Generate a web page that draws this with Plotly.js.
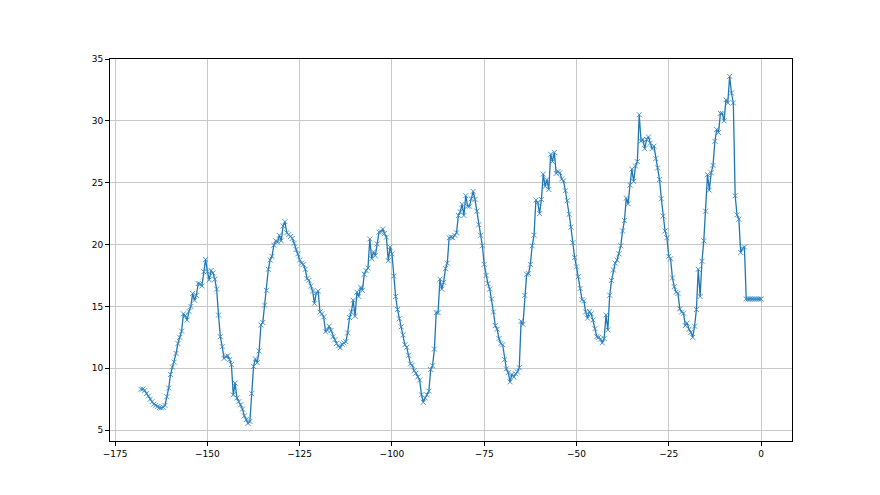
<!DOCTYPE html>
<html>
<head>
<meta charset="utf-8">
<script src="https://cdn.plot.ly/plotly-3.0.1.min.js"></script>
<style>html,body{margin:0;padding:0;background:#fff;}#chart{width:880px;height:495px;}</style>
</head>
<body>
<div id="chart"></div>
<script>
// Half-hourly readings, hours relative to now (-168 .. 0)
var startHour = -168;
var stepHour = 0.5;

// -168 .. -142.5
var day1 = [8.3, 8.32, 8.2, 7.95, 7.75, 7.5, 7.3, 7.1, 7.0, 6.9,
  6.82, 6.8, 6.85, 7.0, 7.7, 8.4, 9.5, 10.1, 10.5, 11.2,
  12.0, 12.5, 13.0, 14.4, 14.25, 13.9, 14.6, 15.0, 16.05, 15.5,
  15.9, 16.85, 16.8, 16.65, 17.8, 18.8, 17.8, 17.15, 17.9, 17.7,
  17.2, 16.4, 14.3, 12.55, 11.75, 10.8, 10.95, 11.0, 10.7, 10.3,
  7.85, 8.8];
// -142 .. -115.5
var day2 = [7.6, 7.3, 7.05, 6.7, 6.15, 5.85, 5.55, 5.7, 7.95, 10.15,
  10.75, 10.45, 11.4, 13.5, 13.7, 15.1, 16.3, 18.0, 18.75, 19.05,
  19.95, 20.3, 20.2, 20.75, 20.3, 21.5, 21.85, 20.95, 20.8, 20.65,
  20.5, 20.1, 19.6, 19.25, 18.75, 18.5, 18.4, 18.0, 17.25, 17.1,
  16.65, 16.25, 15.25, 16.1, 16.25, 14.55, 14.4, 14.15, 12.95, 13.1,
  13.4, 13.05, 12.55, 12.3];
// -115 .. -90
var day3 = [12.0, 11.8, 11.65, 11.95, 12.05, 12.15, 12.85, 14.1, 14.55, 15.5,
  14.2, 16.15, 15.8, 16.55, 16.3, 17.6, 17.9, 18.1, 20.45, 18.85,
  19.4, 19.1, 20.05, 21.0, 21.05, 21.25, 20.9, 20.6, 18.7, 19.8,
  19.25, 17.45, 15.8, 14.75, 14.0, 13.35, 12.7, 11.9, 11.7, 11.05,
  10.35, 10.25, 9.8, 9.6, 9.3, 9.05, 7.85, 7.25, 7.6, 7.85,
  8.15];
// -89.5 .. -60
var day4 = [9.9, 10.2, 11.55, 14.5, 14.5, 17.2, 16.4, 16.95, 18.05, 18.5,
  20.55, 20.6, 20.55, 20.75, 20.95, 22.35, 22.65, 23.25, 22.35, 23.95,
  23.1, 23.1, 23.7, 24.3, 23.65, 22.7, 21.6, 20.75, 19.9, 18.4,
  17.5, 16.85, 16.4, 15.6, 14.55, 13.45, 13.15, 12.4, 12.0, 11.9,
  10.7, 9.95, 9.65, 8.9, 9.5, 9.3, 9.55, 9.7, 10.05, 13.8,
  13.55, 15.9, 17.6, 17.65, 18.4, 19.9, 20.75, 23.6, 23.4, 22.5];
// -59.5 .. -33.5
var day5 = [23.65, 25.7, 24.7, 25.25, 24.45, 27.3, 26.7, 27.45, 25.75, 25.9,
  25.8, 25.3, 25.15, 24.35, 23.55, 22.45, 21.4, 20.15, 18.95, 18.2,
  17.4, 16.45, 15.55, 15.45, 14.55, 14.05, 14.6, 14.4, 13.9, 13.2,
  12.55, 12.5, 12.35, 12.05, 12.4, 14.3, 13.1, 15.9, 17.1, 17.95,
  18.5, 18.75, 19.25, 19.9, 21.1, 21.95, 23.75, 23.3, 24.8, 26.1,
  25.1, 26.35, 26.7];
// -33 .. -4.5
var day6 = [30.5, 28.35, 28.5, 27.75, 28.5, 28.7, 28.2, 27.75, 27.95, 26.95,
  26.2, 25.25, 23.7, 22.3, 21.1, 20.55, 19.05, 18.85, 17.3, 16.6,
  16.15, 16.05, 14.8, 14.55, 14.45, 13.45, 13.65, 13.15, 12.9, 12.5,
  13.4, 14.75, 18.0, 15.8, 18.65, 20.3, 22.7, 25.65, 24.4, 25.8,
  26.4, 28.35, 29.3, 29.05, 30.6, 30.6, 30.0, 31.7, 31.45, 33.6,
  32.25, 31.45, 23.95, 22.4, 22.05, 19.35, 19.7, 19.8];
// -4 .. 0
var lastHours = [15.6, 15.6, 15.6, 15.6, 15.6, 15.6, 15.6, 15.6, 15.6];

var yValues = [].concat(day1, day2, day3, day4, day5, day6, lastHours);
var xValues = yValues.map(function (v, i) { return startHour + i * stepHour; });

var xTicks = [-175, -150, -125, -100, -75, -50, -25, 0];
var yTicks = [5, 10, 15, 20, 25, 30, 35];

var trace = {
  x: xValues,
  y: yValues,
  type: 'scatter',
  mode: 'lines+markers',
  line: {color: '#1f77b4', width: 1.3},
  marker: {symbol: 'x-thin-open', size: 5, color: '#3a8ac4', line: {color: '#3a8ac4', width: 0.9}},
  hoverinfo: 'x+y'
};

var axisCommon = {
  showgrid: true,
  gridcolor: '#c8c8c8',
  gridwidth: 1,
  zeroline: false,
  showline: true,
  mirror: true,
  linecolor: '#000',
  linewidth: 1,
  ticks: 'outside',
  ticklen: 4,
  tickwidth: 1,
  tickcolor: '#000',
  tickfont: {family: 'DejaVu Sans, sans-serif', size: 9, color: '#000'}
};

var layout = {
  width: 880,
  height: 495,
  margin: {l: 110, r: 88, t: 59, b: 54},
  paper_bgcolor: '#fff',
  plot_bgcolor: '#fff',
  showlegend: false,
  xaxis: Object.assign({}, axisCommon, {range: [-176.4, 8.4], tickmode: 'array', tickvals: xTicks, ticktext: xTicks.map(function (t) { return t < 0 ? '\u2212' + Math.abs(t) : String(t); })}),
  yaxis: Object.assign({}, axisCommon, {range: [4.12, 35.0], tickmode: 'array', tickvals: yTicks, ticktext: yTicks.map(String)})
};

Plotly.newPlot('chart', [trace], layout, {staticPlot: true, displayModeBar: false});
</script>
</body>
</html>
